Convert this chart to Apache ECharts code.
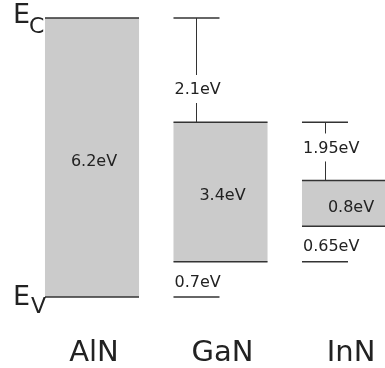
<!DOCTYPE html>
<html>
<head>
<meta charset="utf-8">
<script src="https://cdn.jsdelivr.net/npm/echarts@6/dist/echarts.min.js"></script>
<style>
html,body{margin:0;padding:0;background:#fff;}
#chart{width:385px;height:368px;}
</style>
</head>
<body>
<div id="chart"></div>
<script>
// ---- data ----
const compounds = ['AlN', 'GaN', 'InN'];
const gapLabels = ['6.2eV', '3.4eV', '0.8eV'];
const ecOffsetLabels = ['', '2.1eV', '1.95eV'];
const evOffsetLabels = ['', '0.7eV', '0.65eV'];
// schematic band-edge positions (diagram units, AlN valence band = 0)
const conductionBand = [6.2, 3.88, 2.59];
const valenceBand = [0, 0.78, 1.57];
const bandEdgeNames = ['E', 'C', 'V'];

// ---- layout constants ----
const FONT = 'DejaVu Sans';
const TEXT = '#222';
const LINE = '#333';
const BOX_HALF = 0.366;   // x units
const SHORT_W = 0.358;    // x units
const EC_LABEL_FRAC = [0, 0.69, 0.45];

const chart = echarts.init(document.getElementById('chart'), null, {renderer: 'canvas'});

function renderItem(params, api) {
  const i = api.value(0);
  const top = api.coord([i, api.value(1)]);
  const bot = api.coord([i, api.value(2)]);
  const halfW = api.size([BOX_HALF, 0])[0];
  const shortW = api.size([SHORT_W, 0])[0];
  const left = top[0] - halfW, right = top[0] + halfW;
  const ch = [];
  ch.push({type: 'rect', shape: {x: left, y: top[1], width: 2 * halfW, height: bot[1] - top[1]},
           style: {fill: '#cbcbcb'}});
  ch.push({type: 'line', shape: {x1: left, y1: top[1], x2: right, y2: top[1]}, style: {stroke: LINE, lineWidth: 1.5}});
  ch.push({type: 'line', shape: {x1: left, y1: bot[1], x2: right, y2: bot[1]}, style: {stroke: LINE, lineWidth: 1.5}});
  ch.push({type: 'text', style: {x: top[0] + 2, y: (top[1] + bot[1]) / 2 + 4, text: gapLabels[i],
           font: '16px ' + FONT, fill: TEXT, align: 'center', verticalAlign: 'middle'}});
  // compound name
  ch.push({type: 'text', style: {x: top[0] + 2, y: 353, text: compounds[i],
           font: '29px ' + FONT, fill: TEXT, align: 'center', verticalAlign: 'middle'}});
  if (i === 0) {
    ch.push({type: 'text', style: {x: 13, y: top[1] - 2, text: bandEdgeNames[0], font: '27px ' + FONT, fill: TEXT, align: 'left', verticalAlign: 'middle'}});
    ch.push({type: 'text', style: {x: 29, y: top[1] + 9, text: bandEdgeNames[1], font: '22px ' + FONT, fill: TEXT, align: 'left', verticalAlign: 'middle'}});
    ch.push({type: 'text', style: {x: 13, y: bot[1] + 1, text: bandEdgeNames[0], font: '27px ' + FONT, fill: TEXT, align: 'left', verticalAlign: 'middle'}});
    ch.push({type: 'text', style: {x: 31, y: bot[1] + 10, text: bandEdgeNames[2], font: '22px ' + FONT, fill: TEXT, align: 'left', verticalAlign: 'middle'}});
  } else {
    const refTop = api.coord([i, conductionBand[i - 1]])[1];
    const refBot = api.coord([i, valenceBand[i - 1]])[1];
    const vx = Math.round(left + shortW / 2) + 0.5;
    const ly = refTop + (top[1] - refTop) * EC_LABEL_FRAC[i];
    ch.push({type: 'line', shape: {x1: left, y1: refTop, x2: left + shortW, y2: refTop}, style: {stroke: LINE, lineWidth: 1.5}});
    ch.push({type: 'line', shape: {x1: vx, y1: refTop, x2: vx, y2: ly - 15}, style: {stroke: LINE, lineWidth: 1}});
    ch.push({type: 'line', shape: {x1: vx, y1: ly + 13, x2: vx, y2: top[1]}, style: {stroke: LINE, lineWidth: 1}});
    ch.push({type: 'text', style: {x: left + 1, y: ly, text: ecOffsetLabels[i], font: '16px ' + FONT, fill: TEXT, align: 'left', verticalAlign: 'middle'}});
    ch.push({type: 'line', shape: {x1: left, y1: refBot, x2: left + shortW, y2: refBot}, style: {stroke: LINE, lineWidth: 1.5}});
    ch.push({type: 'text', style: {x: left + 1, y: (bot[1] + refBot) / 2 + 3, text: evOffsetLabels[i], font: '16px ' + FONT, fill: TEXT, align: 'left', verticalAlign: 'middle'}});
  }
  return {type: 'group', children: ch};
}

chart.setOption({
  animation: false,
  backgroundColor: '#fff',
  grid: {left: 0, right: 0, top: 0, bottom: 0},
  xAxis: {type: 'value', min: -0.716, max: 2.280, show: false},
  yAxis: {type: 'value', min: -1.58, max: 6.6, show: false},
  series: [{
    type: 'custom',
    renderItem: renderItem,
    clip: false,
    data: compounds.map((c, i) => [i, conductionBand[i], valenceBand[i]])
  }]
});
</script>
</body>
</html>
